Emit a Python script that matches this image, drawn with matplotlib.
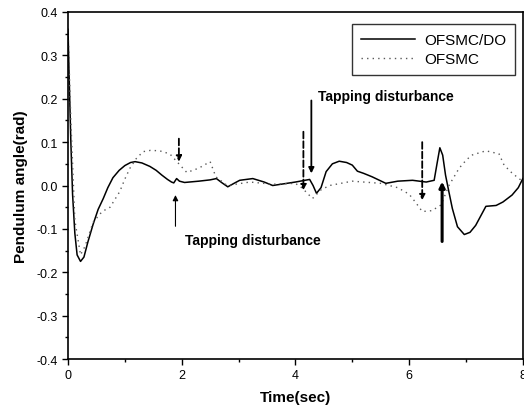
import numpy as np
import matplotlib.pyplot as plt

plt.rcParams['font.family'] = ['Liberation Sans', 'DejaVu Sans']
plt.rcParams['axes.unicode_minus'] = False

# OFSMC/DO (solid)
t_do = [0.0, 0.02, 0.05, 0.08, 0.12, 0.16, 0.22, 0.28, 0.35, 0.44, 0.53, 0.62, 0.7, 0.79,
        0.9, 1.0, 1.1, 1.18, 1.3, 1.44, 1.55, 1.65, 1.75, 1.82, 1.86, 1.91, 1.96, 2.05,
        2.3, 2.5, 2.61, 2.7, 2.81, 2.92, 3.02, 3.25, 3.45, 3.6, 3.8, 4.0, 4.25, 4.31,
        4.37, 4.45, 4.54, 4.65, 4.77, 4.9, 5.0, 5.09, 5.2, 5.35, 5.59, 5.8, 6.06, 6.3,
        6.44, 6.49, 6.54, 6.59, 6.64, 6.7, 6.76, 6.85, 6.97, 7.07, 7.17, 7.35, 7.53,
        7.65, 7.81, 7.92, 8.0]
y_do = [0.36, 0.25, 0.1, -0.02, -0.11, -0.16, -0.175, -0.165, -0.13, -0.09, -0.055, -0.03,
        -0.005, 0.018, 0.035, 0.046, 0.053, 0.055, 0.052, 0.044, 0.035, 0.024, 0.014, 0.008,
        0.006, 0.016, 0.01, 0.007, 0.01, 0.013, 0.016, 0.007, -0.003, 0.005, 0.012, 0.016,
        0.008, 0.0, 0.004, 0.008, 0.014, 0.0, -0.018, -0.005, 0.032, 0.05, 0.056, 0.053,
        0.047, 0.033, 0.028, 0.02, 0.005, 0.01, 0.012, 0.008, 0.012, 0.05, 0.087, 0.07,
        0.024, -0.015, -0.053, -0.095, -0.113, -0.108, -0.092, -0.048, -0.046, -0.038,
        -0.022, -0.005, 0.016]

# OFSMC (dotted)
t_s = [0.0, 0.05, 0.12, 0.22, 0.3, 0.44, 0.6, 0.74, 0.91, 1.0, 1.09, 1.2, 1.32, 1.45,
       1.61, 1.79, 1.95, 2.09, 2.3, 2.5, 2.6, 2.8, 3.2, 3.6, 4.0, 4.12, 4.3, 4.45,
       4.6, 5.0, 5.5, 5.8, 6.0, 6.12, 6.23, 6.4, 6.56, 6.7, 6.88, 7.0, 7.1, 7.35,
       7.58, 7.67, 7.8, 7.93, 8.0]
y_s = [0.36, 0.15, -0.08, -0.16, -0.14, -0.085, -0.06, -0.05, -0.014, 0.015, 0.04, 0.062,
       0.078, 0.081, 0.08, 0.073, 0.05, 0.03, 0.04, 0.055, 0.02, 0.0, 0.008, 0.003, 0.005,
       -0.006, -0.03, -0.01, 0.0, 0.01, 0.005, -0.005, -0.02, -0.04, -0.06, -0.058,
       -0.045, 0.0, 0.04, 0.058, 0.07, 0.08, 0.073, 0.047, 0.03, 0.016, 0.01]

# arrows: x, y_tail, y_head, style, width
arrow_x = [1.95, 1.89, 4.14, 4.28, 6.23, 6.58]
arrow_from = [0.108, -0.094, 0.124, 0.196, 0.100, -0.129]
arrow_to = [0.055, -0.022, -0.011, 0.028, -0.034, 0.009]
arrow_ls = ['--', '-', '--', '-', '--', '-']
arrow_lw = [1.3, 0.8, 1.3, 1.3, 1.3, 2.2]

fig = plt.figure(figsize=(5.24, 4.14), dpi=100)
ax = fig.add_axes([0.1298, 0.1304, 0.868, 0.8382])

ax.plot(t_do, y_do, color='black', lw=1.1, label='OFSMC/DO')
ax.plot(t_s, y_s, color='0.35', lw=1.0, linestyle=(0, (1, 3)), label='OFSMC')

for x, y0, y1, ls, lw in zip(arrow_x, arrow_from, arrow_to, arrow_ls, arrow_lw):
    ax.annotate('', xy=(x, y1), xytext=(x, y0),
                arrowprops=dict(arrowstyle='-|>', color='black', lw=lw, linestyle=ls,
                                mutation_scale=8, shrinkA=0, shrinkB=0))

ax.text(4.4, 0.207, 'Tapping disturbance', fontsize=10, fontweight='bold', va='center')
ax.text(2.05, -0.126, 'Tapping disturbance', fontsize=10, fontweight='bold', va='center')

ax.set_xlim(0, 8)
ax.set_ylim(-0.4, 0.4)
ax.set_xticks([0, 2, 4, 6, 8])
ax.set_xticks([1, 3, 5, 7], minor=True)
ax.set_yticks(np.round(np.arange(-0.4, 0.41, 0.1), 1))
ax.set_yticks(np.arange(-0.35, 0.4, 0.1), minor=True)
ax.tick_params(which='major', direction='out', length=4, width=1, labelsize=9)
ax.tick_params(which='minor', direction='out', length=2, width=1)
for s in ax.spines.values():
    s.set_linewidth(1.2)

ax.set_xlabel('Time(sec)', fontsize=11, fontweight='bold', labelpad=6)
ax.set_ylabel('Pendulum angle(rad)', fontsize=11, fontweight='bold', labelpad=6)

leg = ax.legend(loc='upper right', bbox_to_anchor=(1.0, 0.988), fontsize=11, frameon=True,
                fancybox=False, edgecolor='black', handlelength=3.5, borderpad=0.6,
                labelspacing=0.35, handletextpad=0.6)
leg.get_frame().set_linewidth(1.0)

fig.savefig('out.png', dpi=100)
